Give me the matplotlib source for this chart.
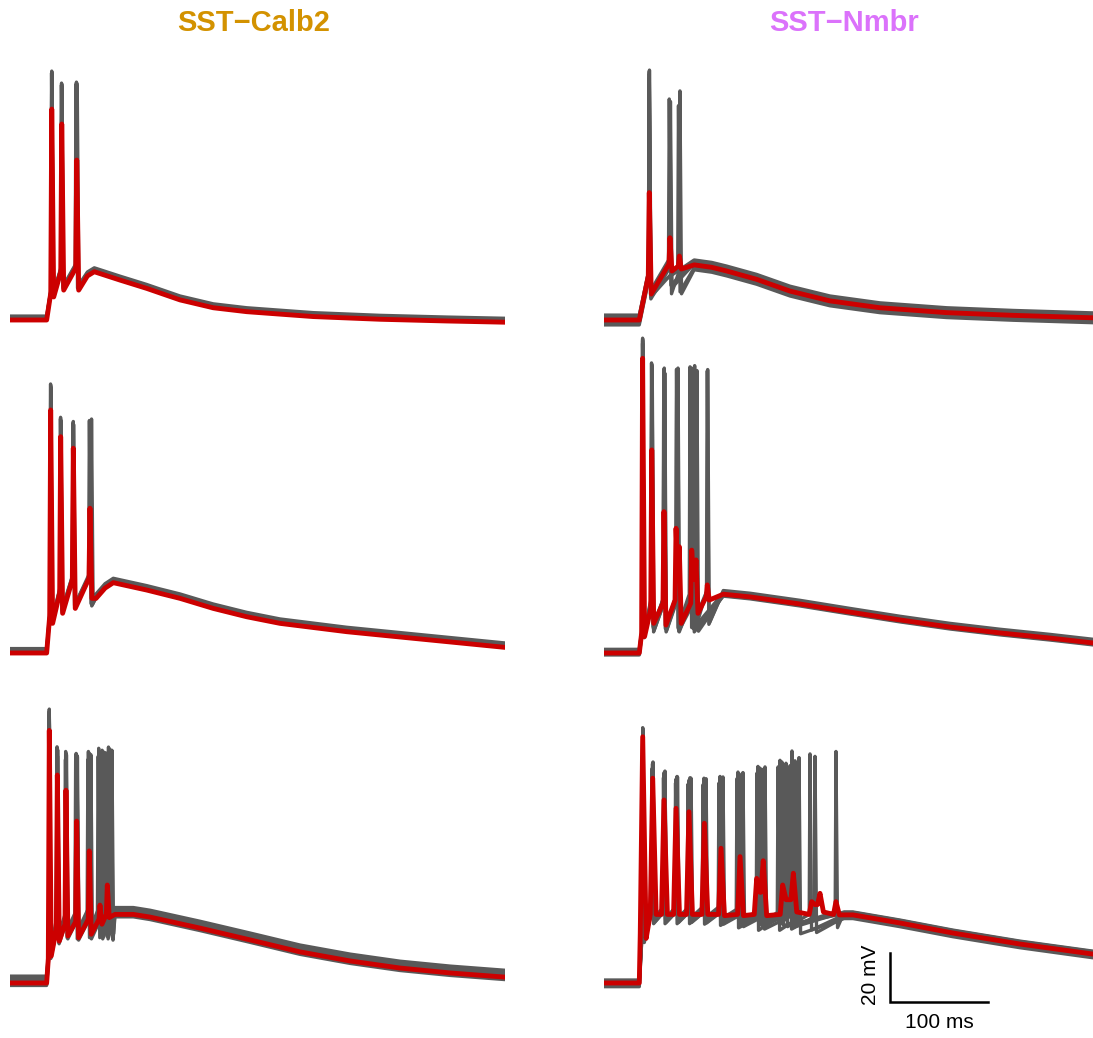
import numpy as np
import matplotlib
matplotlib.use("Agg")
import matplotlib.pyplot as plt

plt.rcParams['font.family'] = ['Liberation Sans', 'DejaVu Sans']

GREY = '#595959'
RED = '#cc0000'
REST = -70.0

# ---------------- SST-Calb2, row 1 ----------------
a_onset = 37.4
a_pre = [-59, -50.4, -48.8]
a_trough = [-60.6, -57.8, -57.8]
a_grey_peak = [30, 25.1, 25.5]
a_grey_spikes = [[42.6, 52.8, 68.1], [42.4, 52.5, 67.3], [42.8, 53.0, 68.6], [42.6, 52.6, 67.8]]
a_grey_offset = [1.2, 0.8, 0.4, 1.6]
a_red_spikes = [42.6, 52.8, 68.1]
a_red_peak = [16.1, 10.0, -4.7]
a_red_pre = [-59, -50.4, -48.8]
a_red_trough = [-60.6, -57.8, -57.8]
a_tail_t = [79, 86, 112.2, 139.5, 173.5, 207.4, 241.5, 309.5, 377.6, 445.6, 505]
a_tail_v = [-52, -50.3, -53.7, -57.1, -61.8, -65, -66.6, -68.6, -69.7, -70.4, -70.9]

# ---------------- SST-Nmbr, row 1 ----------------
b_onset = 36
b_pre = [-52, -47.1, -48]
b_trough = [-59.4, -57.3, -57.3]
b_grey_peak = [30, 18.7, 25.5]
b_grey_spikes = [[46.2, 67.3, 77.5], [46.2, 66.6], [46.0, 76.0], [46.4], [46.2, 67.8]]
b_grey_offset = [-2.0, 1.5, -1.2, 2.0, 0.5]
b_red_spikes = [46.2, 67.3, 76.9]
b_red_peak = [-18, -36.4, -43.9]
b_red_pre = [-52, -47.1, -48]
b_red_trough = [-59.4, -50, -49.2]
b_tail_t = [92, 110, 125.2, 155.8, 189.8, 230.6, 281.6, 349.7, 417.7, 499]
b_tail_v = [-47.5, -48.5, -50, -53.4, -58.2, -62.2, -65, -67, -68.1, -69.1]

# ---------------- SST-Calb2, row 2 ----------------
c_onset = 37.4
c_pre = [-55, -45.5, -40.2, -39.5]
c_trough = [-57.9, -53.8, -51.8, -51]
c_grey_peak = [38, 24.4, 22.7, 23.7]
c_grey_spikes = [[41.5, 51.5, 64.3, 81.0], [41.6, 51.9, 64.9, 82.3],
                 [41.4, 51.6, 64.6, 83.2], [41.5, 51.8, 64.4, 81.8]]
c_grey_offset = [1.2, 0.6, 1.8, 0.2]
c_red_spikes = [41.5, 51.7, 64.6, 81.6]
c_red_peak = [29.2, 18.3, 13.6, -10.9]
c_red_pre = [-55, -45.5, -40.2, -39.5]
c_red_trough = [-57.9, -53.8, -51.8, -47.7]
c_tail_t = [87.8, 97, 105.4, 139.5, 173.5, 207.4, 241.5, 275.5, 343.6, 411.5, 505]
c_tail_v = [-47.7, -43.5, -41.3, -44.3, -47.7, -51.8, -55.2, -57.9, -61.3, -64, -67.7]

# ---------------- SST-Nmbr, row 2 ----------------
d_onset = 36
d_pre = [-62, -50, -49, -48, -47, -46]
d_trough = [-63, -60.6, -60.6, -60.6, -60.6, -59.3]
d_grey_peak = [57, 46.9, 44.8, 44.8, 45.8, 44.2]
d_grey_spikes = [[39.4, 48.7, 61.2, 74.0, 87.8, 105.4], [39.4, 49.0, 61.8, 75.2, 90.5],
                 [39.4, 48.5, 61.5, 75.5, 92.5, 105.8], [39.4, 49.2, 62.0, 74.6, 94.8],
                 [39.4, 48.8, 61.0, 74.2, 89.5]]
d_grey_offset = [1.0, -0.8, 1.5, -0.5, 0.5]
d_red_spikes = [39.4, 48.7, 61.2, 73.5, 76.8, 89.5, 93.9, 105.4]
d_red_peak = [50.3, 12.9, -12.3, -19.1, -26.6, -28, -32, -42.2]
d_red_pre = [-62, -52, -49.7, -48.4, -40, -49.7, -40, -47]
d_red_trough = [-63.3, -57.9, -58.6, -40, -57.9, -40, -53.8, -48.4]
d_tail_t = [121.7, 149, 200, 251, 302, 353, 404, 455, 499]
d_tail_v = [-46, -47.1, -50, -53.3, -56.5, -59.4, -61.8, -63.9, -65.9]

# ---------------- SST-Calb2, row 3 ----------------
e_onset = 37.4
e_pre = [-60, -47, -45, -44, -43, -43, -43]
e_trough = [-59, -53, -51, -51.5, -51, -51, -51.5]
e_grey_peak = [39, 23.6, 21.7, 20.9, 21.7, 23, 23.5]
e_grey_spikes = [[40.1, 48.0, 56.8, 67.5, 80.0, 90.5, 100.5],
                 [40.1, 48.5, 57.4, 68.4, 81.5, 93.0, 103.5],
                 [40.1, 48.2, 57.0, 68.0, 80.8, 91.8, 97.5],
                 [40.1, 48.6, 57.6, 68.8, 82.5, 95.0, 104.0],
                 [40.1, 48.1, 56.6, 67.0, 79.5, 90.0, 98.5],
                 [40.1, 48.4, 57.2, 68.3, 81.2, 94.0, 101.8]]
e_grey_offset = [2.8, -1.0, 0.5, 1.5, -0.5, 2.0]
e_red_spikes = [40.1, 48.3, 57.1, 68, 80.9, 91.8, 99.3]
e_red_peak = [33.1, 14.9, 8.7, -3.9, -16.1, -38.2, -30]
e_red_pre = [-60, -48, -46, -45, -44, -44, -42]
e_red_trough = [-59, -52.9, -50.8, -51.5, -50.1, -46, -43.3]
e_tail_t = [107.1, 125.8, 142.9, 193.9, 244.9, 295.9, 347, 398, 449, 505]
e_tail_v = [-42, -42, -43.1, -47.6, -52.4, -57.3, -61, -63.9, -65.9, -67.6]

# ---------------- SST-Nmbr, row 3 ----------------
f_onset = 36
f_pre = [-50, -40, -40, -40, -40, -40, -40, -41, -42, -42, -42]
f_trough = [-52, -44.3, -44.3, -44.3, -44.3, -44.5, -45, -46, -47, -47, -48.4]
f_grey_peak = [33, 19, 15.3, 13.1, 12.6, 12.4, 13.1, 14.9, 17.2, 19.7, 23.5]
f_grey_spikes = [[39.5, 49.7, 61.2, 73.5, 86.7, 102.0, 119.4, 138.8, 161.2, 185.7, 210.2],
                 [39.5, 49.7, 61.7, 74.5, 87.8, 103.1, 120.4, 140.8, 162.2, 189.8, 215.3],
                 [39.5, 50.0, 62.2, 75.0, 88.8, 104.1, 121.4, 141.8, 164.3, 194.9, 236.7],
                 [39.5, 49.0, 60.7, 73.0, 85.7, 101.0, 117.3, 135.7, 156.1, 177.6, 199.0],
                 [39.5, 49.5, 61.2, 74.0, 87.2, 102.6, 119.9, 137.8, 159.2, 181.6],
                 [39.5, 50.0, 62.2, 74.5, 87.8, 102.0, 118.4, 136.7, 157.1, 179.6, 191.8]]
f_grey_offset = [0.0, -1.0, 1.0, -1.5, 0.5, 1.2]
f_red_spikes = [39.5, 49.7, 61.2, 73.5, 86.7, 102.4, 119.4, 138.8, 155.8, 162.5,
                182.3, 193.2, 211.9, 220.4, 236.7]
f_red_peak = [30.5, 13.6, 4.7, 1.3, -0.1, -4.8, -15, -18.4, -27.3, -20.1,
              -30, -25.2, -36.8, -33.4, -36.8]
f_red_pre = [-50, -42, -42, -42, -42, -42, -42, -42, -42, -33, -42, -36, -42, -38, -42]
f_red_trough = [-51.8, -42, -42, -42, -42, -42, -42.5, -42.5, -33, -42.5, -36, -41, -38, -41, -42.2]
f_tail_t = [245, 254, 302, 356, 424.5, 499]
f_tail_v = [-42.2, -42.2, -45.5, -49.6, -54.1, -58.2]

titles = ['SST\u2212Calb2', 'SST\u2212Nmbr']
title_colors = ['#D39200', '#DB72FB']


def build_trace(onset, spikes, peaks, pre, trough, tail_t, tail_v, offset=0.0, rise=0.8, fall=1.6):
    t = [0.0, onset]
    v = [REST, REST]
    for i, s in enumerate(spikes):
        t += [s - rise, s, s + fall]
        v += [pre[i], peaks[i], trough[i]]
    last = t[-1]
    for tt, vv in zip(tail_t, tail_v):
        if tt > last + 1:
            t.append(tt)
            v.append(vv)
    return np.array(t), np.array(v) + offset


panels = [
    (a_onset, a_grey_spikes, a_grey_peak, a_pre, a_trough, a_grey_offset,
     a_red_spikes, a_red_peak, a_red_pre, a_red_trough, a_tail_t, a_tail_v, 1.0, 2.0),
    (b_onset, b_grey_spikes, b_grey_peak, b_pre, b_trough, b_grey_offset,
     b_red_spikes, b_red_peak, b_red_pre, b_red_trough, b_tail_t, b_tail_v, 1.0, 2.0),
    (c_onset, c_grey_spikes, c_grey_peak, c_pre, c_trough, c_grey_offset,
     c_red_spikes, c_red_peak, c_red_pre, c_red_trough, c_tail_t, c_tail_v, 1.0, 2.0),
    (d_onset, d_grey_spikes, d_grey_peak, d_pre, d_trough, d_grey_offset,
     d_red_spikes, d_red_peak, d_red_pre, d_red_trough, d_tail_t, d_tail_v, 1.0, 2.0),
    (e_onset, e_grey_spikes, e_grey_peak, e_pre, e_trough, e_grey_offset,
     e_red_spikes, e_red_peak, e_red_pre, e_red_trough, e_tail_t, e_tail_v, 1.0, 2.0),
    (f_onset, f_grey_spikes, f_grey_peak, f_pre, f_trough, f_grey_offset,
     f_red_spikes, f_red_peak, f_red_pre, f_red_trough, f_tail_t, f_tail_v, 2.5, 3.5),
]

W, H = 1093, 1038
fig = plt.figure(figsize=(W / 100, H / 100), dpi=100)

px_per_ms = 0.98
px_per_mv = 2.45
ylo, yhi = -80, 60
col_x0 = [10, 604]
col_xmax = [505, 499]
row_base = [320, 653, 983]

axes = []
for k, p in enumerate(panels):
    row, col = k // 2, k % 2
    w = col_xmax[col] * px_per_ms
    hgt = (yhi - ylo) * px_per_mv
    bottom = row_base[row] + (REST - ylo) * px_per_mv
    ax = fig.add_axes([col_x0[col] / W, 1 - bottom / H, w / W, hgt / H])
    ax.set_xlim(0, col_xmax[col])
    ax.set_ylim(ylo, yhi)
    ax.axis('off')
    (onset, gspk, gpk, gpre, gtr, goff, rspk, rpk, rpre, rtr, tt, tv, rr, rf) = p
    for spikes, off in zip(gspk, goff):
        x, y = build_trace(onset, spikes, gpk, gpre, gtr, tt, tv, offset=off)
        ax.plot(x, y, color=GREY, lw=2.4, solid_joinstyle='round', solid_capstyle='round')
    x, y = build_trace(onset, rspk, rpk, rpre, rtr, tt, tv, rise=rr, fall=rf)
    ax.plot(x, y, color=RED, lw=3.5, solid_joinstyle='round', solid_capstyle='round')
    axes.append(ax)

for col in range(2):
    cx = (col_x0[col] + col_x0[col] + col_xmax[col] * px_per_ms) / 2 - 4
    fig.text(cx / W, 1 - 23 / H, titles[col], color=title_colors[col],
             fontsize=21, fontweight='bold', ha='center', va='center')

# scale bar in the bottom-right panel
ax = axes[5]
bar_x0, bar_x1 = 291.8, 391.8
bar_y0, bar_y1 = -77.8, -57.8
ax.plot([bar_x0, bar_x0, bar_x1], [bar_y1, bar_y0, bar_y0], color='black', lw=1.8,
        clip_on=False, solid_joinstyle='miter')
ax.text(bar_x0 - 20, (bar_y0 + bar_y1) / 2 + 1, '20 mV', rotation=90, fontsize=15,
        ha='center', va='center')
ax.text((bar_x0 + bar_x1) / 2, bar_y0 - 8.5, '100 ms', fontsize=15, ha='center', va='center')

fig.savefig('out.png', dpi=100)
